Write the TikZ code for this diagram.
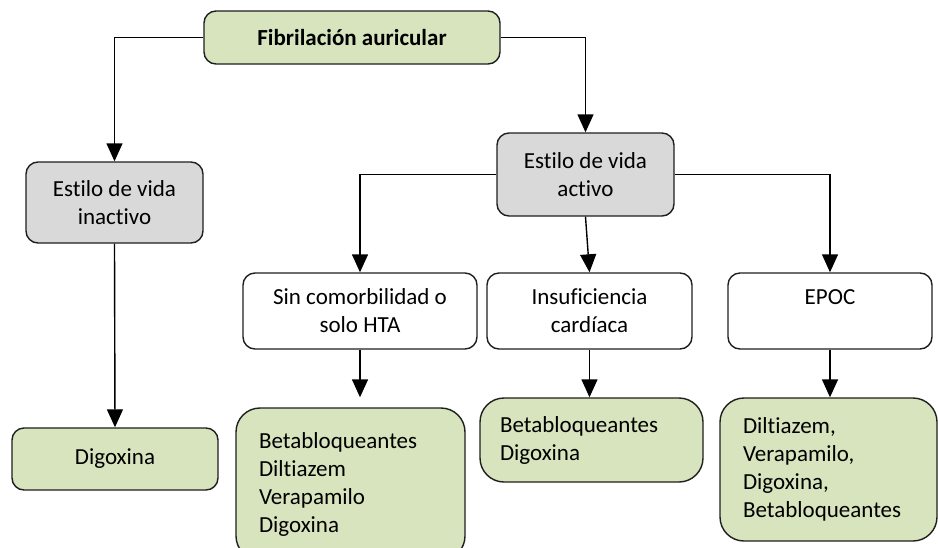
\documentclass[tikz,border=0pt]{standalone}
\usepackage{fontspec}
\setmainfont{Carlito}[Ligatures = NoCommon]
\usetikzlibrary{arrows.meta}

\definecolor{verde}{HTML}{D7E4BD}
\definecolor{gris}{HTML}{D9D9D9}
\definecolor{borde}{HTML}{1F1F1F}

\begin{document}
\begin{tikzpicture}[x = 1pt, y = -1pt,
	> = {Triangle[width = 16pt, length = 18pt]},
	every node/.style = {font = \fontsize{23}{28}\selectfont},
	caja/.style = {draw = borde, line width = 1.4pt, rounded corners = 12pt, align = center, inner sep = 0pt},
	farmaco/.style = {caja, fill = verde, rounded corners = 24pt, align = left},
	flecha/.style = {->, line width = 1.4pt}]

	\useasboundingbox (0, 0) rectangle (938, 547);

	% Root

	\node [caja, fill = verde, minimum width = 296pt, minimum height = 53pt, font = \fontsize{23}{28}\selectfont\bfseries] (titulo) at (352, 37.5) {Fibrilación auricular};

	% Lifestyle

	\node [caja, fill = gris, minimum width = 177pt, minimum height = 81pt] (inactivo) at (114.5, 202.5) {Estilo de vida\\inactivo};
	\node [caja, fill = gris, minimum width = 177pt, minimum height = 83pt] (activo) at (585.5, 174.5) {Estilo de vida\\activo};

	\draw [flecha] (titulo.west) -| (inactivo.north);
	\draw [flecha] (titulo.east) -| (activo.north);

	% Comorbidity

	\node [caja, fill = white, minimum width = 234pt, minimum height = 76pt] (sin) at (360, 311) {Sin comorbilidad o\\solo HTA};
	\node [caja, fill = white, minimum width = 205pt, minimum height = 76pt] (insuf) at (589.5, 311) {Insuficiencia\\cardíaca};
	\node [caja, fill = white, minimum width = 204pt, minimum height = 76pt] (epoc) at (830, 311) {EPOC\\\phantom{X}};

	\draw [flecha] (activo.west) -| (sin.north);
	\draw [flecha] (activo.south) -- (insuf.north);
	\draw [flecha] (activo.east) -| (epoc.north);

	% Drugs

	\node [caja, fill = verde, minimum width = 206pt, minimum height = 62pt] (digoxina) at (115, 459) {Digoxina};
	\node [farmaco, text width = 183pt, minimum height = 152pt, inner xsep = 23pt] (med1) at (350.5, 484) {Betabloqueantes\\Diltiazem\\Verapamilo\\Digoxina};
	\node [farmaco, text width = 183pt, minimum height = 84pt, inner xsep = 20pt] (med2) at (591.5, 440) {Betabloqueantes\\Digoxina};
	\node [farmaco, text width = 171pt, minimum height = 143pt, inner xsep = 23pt] (med3) at (828.5, 469.5) {Diltiazem,\\Verapamilo,\\Digoxina,\\Betabloqueantes};

	\draw [flecha] (inactivo.south) -- (digoxina.north);
	\draw [flecha, shorten > = 10pt] (sin.south) -- (sin.south |- med1.north);
	\draw [flecha] (insuf.south) -- (insuf.south |- med2.north);
	\draw [flecha] (epoc.south) -- (epoc.south |- med3.north);

\end{tikzpicture}
\end{document}
